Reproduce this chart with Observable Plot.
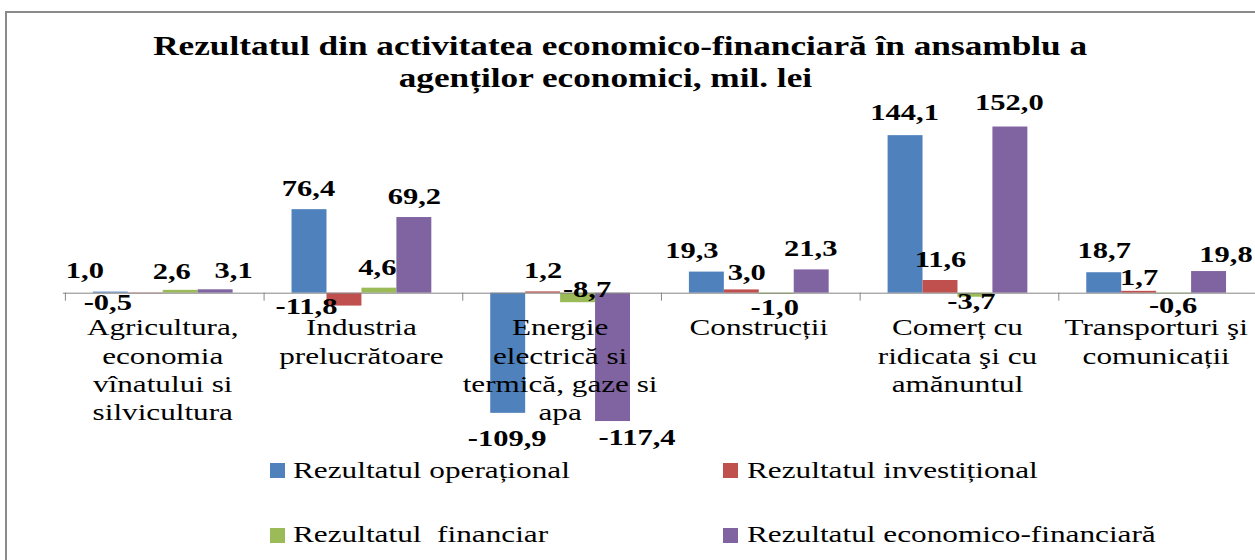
<!DOCTYPE html>
<html><head><meta charset="utf-8">
<script src="https://cdn.jsdelivr.net/npm/d3@7"></script>
<script src="https://cdn.jsdelivr.net/npm/@observablehq/plot@0.6"></script>
<style>
body{margin:0;background:#fff;}
#wrap{position:relative;width:1255px;height:560px;overflow:hidden;background:#fff;font-family:"Liberation Serif","Times New Roman",serif;color:#000;}
#frame{position:absolute;left:5px;top:11px;width:1400px;height:700px;border-left:2px solid #8a8a8a;border-top:2px solid #8a8a8a;}
.t{position:absolute;width:1255px;text-align:center;font-weight:bold;font-size:26.5px;line-height:1;white-space:nowrap;}
.t span{display:inline-block;transform:scaleX(1.33);}
#chart{position:absolute;left:0;top:100px;}
.sw{position:absolute;width:15px;height:15px;}
.lt{position:absolute;font-size:23.5px;line-height:1;white-space:pre;transform-origin:left center;transform:scaleX(1.33);}
</style>
</head><body>
<div id="wrap">
  <div id="frame"></div>
  <div class="t" style="left:-7px;top:33px"><span>Rezultatul din activitatea economico-financiară în ansamblu a</span></div>
  <div class="t" style="left:-22px;top:65px"><span>agenților economici, mil. lei</span></div>
  <div id="chart"></div>
  <div id="legend"></div>
</div>
<script>
const categories = [
  "Agricultura, economia vînatului si silvicultura",
  "Industria prelucrătoare",
  "Energie electrică si termică, gaze si apa",
  "Construcții",
  "Comerț cu ridicata şi cu amănuntul",
  "Transporturi şi comunicații"
];
const categoryLabels = [
  "Agricultura,\neconomia\nvînatului si\nsilvicultura",
  "Industria\nprelucrătoare",
  "Energie\nelectrică si\ntermică, gaze si\napa",
  "Construcții",
  "Comerț cu\nridicata şi cu\namănuntul",
  "Transporturi şi\ncomunicații"
];
const seriesNames = [
  "Rezultatul operațional",
  "Rezultatul investițional",
  "Rezultatul  financiar",
  "Rezultatul economico-financiară"
];
const operational        = [1.0,  76.4, -109.9, 19.3, 144.1, 18.7];
const investitional      = [-0.5, -11.8,   1.2,  3.0,  11.6,  1.7];
const financiar          = [2.6,   4.6,   -8.7, -1.0,  -3.7, -0.6];
const economicoFinanciar = [3.1,  69.2, -117.4, 21.3, 152.0, 19.8];
const seriesValues = [operational, investitional, financiar, economicoFinanciar];
const colors = ["#4F81BD", "#C0504D", "#9BBB59", "#8064A2"];

// label placement nudges (pixels), per series per category
const labelDx = [
  [-26,  -1,  -1, -15, -1,  0],
  [-38, -38,   0,   5,  0,  0],
  [ -9,  -2,   9,  -2, -4, -1],
  [ 18,   0,  24,  -1, -1, 17]
];
const labelDy = [
  [ 0,   0,  13, 0, -2, -1],
  [-3, -11,   0, 4,  0,  7],
  [ 2,   0, -25, 1, -8,  0],
  [ 2,   0,   4, 0, -3,  4]
];

const rows = categories.flatMap((c, ci) =>
  seriesNames.map((s, si) => ({cat: c, series: s, value: seriesValues[si][ci], ci, si})));
const fmt = v => v.toFixed(1).replace(".", ",");
const S = 1.33;

const labelMarks = rows.map(r => Plot.text([r], {
  fx: "cat", x: "series", y: "value",
  text: d => fmt(d.value),
  dx: labelDx[r.si][r.ci],
  dy: (r.value >= 0 ? -21 : 12) + labelDy[r.si][r.ci],
  fontWeight: "bold", fontSize: 23, lineAnchor: "middle", fill: "#000"
}));

const plot = Plot.plot({
  width: 1257, height: 350,
  marginLeft: 63, marginRight: 0, marginTop: 0, marginBottom: 0,
  style: {fontFamily: "'Liberation Serif','Times New Roman',serif", background: "transparent", overflow: "visible"},
  fx: {domain: categories, padding: 0, axis: null},
  x: {domain: seriesNames, paddingInner: 0, paddingOuter: 0.764, axis: null},
  y: {domain: [-140, 160], range: [346.3, 17.8], axis: null},
  color: {domain: seriesNames, range: colors},
  marks: [
    Plot.barY(rows, {fx: "cat", x: "series", y1: 0, y2: "value", fill: "series"}),
    Plot.ruleY([0], {stroke: "#868686", strokeWidth: 1}),
    Plot.ruleX(categories, {fx: d => d, x: () => seriesNames[0], y1: 0, y2: 0, insetTop: 0, insetBottom: -8, dx: -45.5, stroke: "#868686"}),
    Plot.text(categories, {fx: d => d, text: (d, i) => categoryLabels[i], y: () => 0, lineAnchor: "top", dy: 22.3, fontSize: 23.5, lineHeight: 1.2, fill: "#000"}),
    ...labelMarks
  ]
});
plot.querySelectorAll("text").forEach(t => {
  const tr = t.getAttribute("transform");
  if (tr) t.setAttribute("transform", tr + ` scale(${S},1)`);
  else {
    const x = +(t.getAttribute("x") || 0);
    t.setAttribute("transform", `translate(${x},0) scale(${S},1) translate(${-x},0)`);
  }
});
document.getElementById("chart").appendChild(plot);

// legend
const lg = document.getElementById("legend");
const pos = [[270, 463, 293, 459.3], [723, 463, 747, 459.3], [270, 528, 293, 523.3], [723, 528, 747, 523.3]];
seriesNames.forEach((s, i) => {
  const sw = document.createElement("div");
  sw.className = "sw"; sw.style.left = pos[i][0] + "px"; sw.style.top = pos[i][1] + "px"; sw.style.background = colors[i];
  const tx = document.createElement("div");
  tx.className = "lt"; tx.style.left = pos[i][2] + "px"; tx.style.top = pos[i][3] + "px"; tx.textContent = s;
  document.getElementById("wrap").appendChild(sw);
  document.getElementById("wrap").appendChild(tx);
});
</script>
</body></html>
